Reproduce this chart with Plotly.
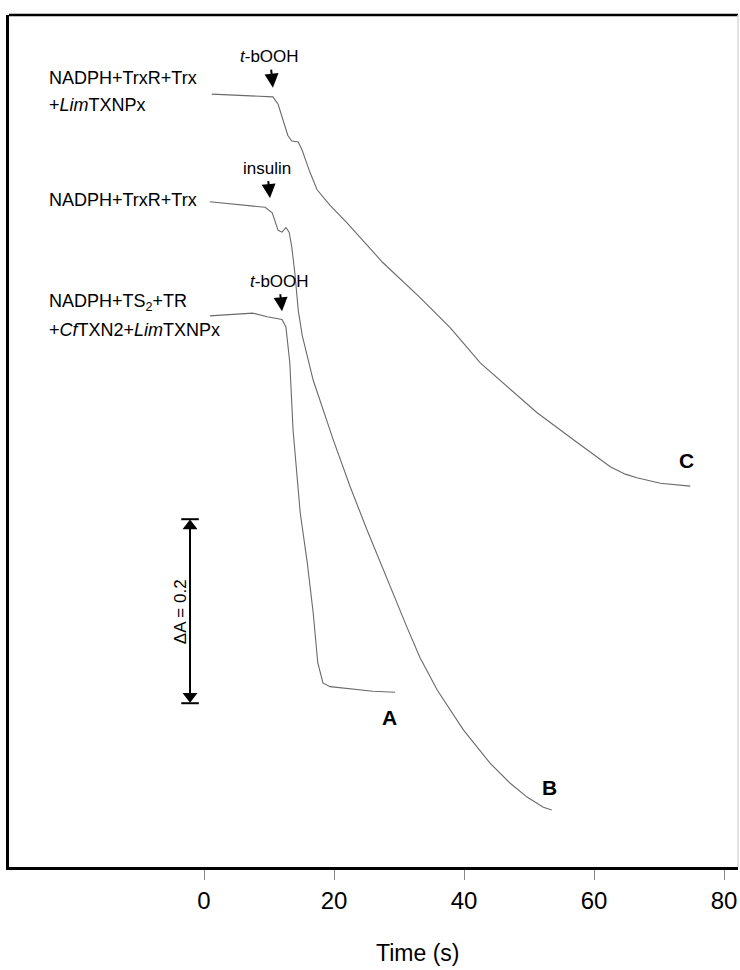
import plotly.graph_objects as go

# Absorbance traces (offset for display), time in seconds
time_a = [0.9, 4.5, 7.5, 9.7, 12.0, 12.6, 13.2, 13.7, 14.8, 15.9, 16.8, 17.5, 18.3, 19.4, 22.5, 26.0, 29.4]
abs_a = [0.599, 0.601, 0.602, 0.598, 0.595, 0.587, 0.548, 0.475, 0.385, 0.330, 0.276, 0.222, 0.200,
         0.196, 0.194, 0.191, 0.190]

time_b = [0.9, 5.1, 9.4, 10.5, 11.4, 12.0, 12.6, 13.1, 13.5, 14.0, 14.5, 15.1, 15.9, 16.8, 19.9,
          22.5, 25.1, 28.2, 31.2, 33.2, 35.9, 39.9, 44.0, 47.1, 49.7, 52.2, 53.5]
abs_b = [0.723, 0.720, 0.717, 0.711, 0.692, 0.690, 0.695, 0.690, 0.674, 0.644, 0.605, 0.578, 0.554,
         0.529, 0.464, 0.413, 0.366, 0.312, 0.261, 0.228, 0.192, 0.149, 0.113, 0.091, 0.076, 0.065, 0.062]

time_c = [1.2, 5.5, 10.6, 11.4, 12.2, 12.9, 13.5, 14.5, 15.1, 16.3, 17.4, 19.4, 22.0, 25.9, 27.5,
          33.2, 37.9, 42.5, 47.1, 51.2, 57.1, 62.5, 64.8, 66.6, 70.2, 74.8]
abs_c = [0.840, 0.839, 0.837, 0.829, 0.812, 0.795, 0.789, 0.788, 0.779, 0.755, 0.736, 0.719, 0.700,
         0.669, 0.657, 0.619, 0.586, 0.548, 0.519, 0.494, 0.463, 0.435, 0.427, 0.423, 0.417, 0.414]

x_ticks = [0, 20, 40, 60, 80]

# Scale bar for absorbance
scale_t = -2.15
scale_bottom = 0.178
scale_delta = 0.2

# Trace names and where they are written
trace_letters = ["A", "B", "C"]
letter_t = [28.5, 53.2, 74.3]
letter_abs = [0.163, 0.086, 0.442]

label_t = -24.2
label_lines = ["NADPH+TrxR+Trx", "+<i>Lim</i>TXNPx", "NADPH+TrxR+Trx",
               "NADPH+TS<sub>2</sub>+TR", "+<i>Cf</i>TXN2+<i>Lim</i>TXNPx"]
label_abs = [0.858, 0.828, 0.725, 0.613, 0.584]

# Additions marked with arrows (arrow tip position; label sits above it)
add_text = ["<i>t</i>-bOOH", "insulin", "<i>t</i>-bOOH"]
add_arrow_t = [10.6, 10.15, 12.0]
add_arrow_tip = [0.847, 0.727, 0.604]
add_text_rise = [31, 30, 30]

FONT = "Arial, Liberation Sans, sans-serif"
line_col = "#6a6a6a"

fig = go.Figure()
for tt, aa in [(time_a, abs_a), (time_b, abs_b), (time_c, abs_c)]:
    fig.add_trace(go.Scatter(x=tt, y=aa, mode="lines", line=dict(color=line_col, width=1.1),
                             showlegend=False, hoverinfo="skip"))

# Scale bar: shaft, end caps and arrowheads
cap_half = 1.35
head = 0.0075
scale_top = scale_bottom + scale_delta
fig.add_trace(go.Scatter(
    x=[scale_t, scale_t, None,
       scale_t - cap_half, scale_t + cap_half, None,
       scale_t - cap_half, scale_t + cap_half],
    y=[scale_bottom + head, scale_top - head, None,
       scale_bottom, scale_bottom, None,
       scale_top, scale_top],
    mode="lines", line=dict(color="black", width=2), showlegend=False, hoverinfo="skip"))
fig.add_trace(go.Scatter(
    x=[scale_t, scale_t], y=[scale_top - head, scale_bottom + head], mode="markers",
    marker=dict(symbol=["triangle-up", "triangle-down"], size=13, color="black"),
    showlegend=False, hoverinfo="skip"))

annotations = []
annotations.append(dict(x=scale_t - 1.55, y=scale_bottom + scale_delta / 2, xref="x", yref="y",
                        text="\u0394A = 0.2", textangle=-90, showarrow=False,
                        font=dict(family=FONT, size=17, color="black")))

for txt, yy in zip(label_lines, label_abs):
    annotations.append(dict(x=label_t, y=yy, xref="x", yref="y", text=txt, showarrow=False,
                            xanchor="left", yanchor="middle",
                            font=dict(family=FONT, size=18, color="black")))

for txt, at, a1, rise in zip(add_text, add_arrow_t, add_arrow_tip, add_text_rise):
    annotations.append(dict(x=at, y=a1, xref="x", yref="y", text=txt, showarrow=True,
                            ax=-3, ay=-rise, arrowhead=2, arrowsize=1.4, arrowwidth=2,
                            arrowcolor="black", standoff=0, startstandoff=2,
                            font=dict(family=FONT, size=17, color="black")))

for txt, tx, ty in zip(trace_letters, letter_t, letter_abs):
    annotations.append(dict(x=tx, y=ty, xref="x", yref="y", text="<b>%s</b>" % txt,
                            showarrow=False, font=dict(family=FONT, size=21, color="black")))

annotations.append(dict(x=32.9, y=-0.101, xref="x", yref="paper", text="Time (s)",
                        showarrow=False, yanchor="middle",
                        font=dict(family=FONT, size=23, color="black")))

# Top and right edges of the frame
shapes = [
    dict(type="line", xref="paper", yref="paper", x0=0, x1=1, y0=1, y1=1,
         line=dict(color="black", width=2.5)),
    dict(type="line", xref="paper", yref="paper", x0=1, x1=1, y0=0, y1=1,
         line=dict(color="#d8d8d8", width=1.5)),
]

fig.update_layout(
    width=740, height=970,
    margin=dict(l=9, r=2, t=15, b=103),
    paper_bgcolor="white", plot_bgcolor="white",
    showlegend=False,
    annotations=annotations,
    shapes=shapes,
    xaxis=dict(range=[-30.0, 82.15], tickvals=x_ticks, ticktext=[str(v) for v in x_ticks],
               ticks="outside", ticklen=10, tickwidth=1, tickcolor="#888888",
               ticklabelstandoff=0,
               showline=True, linecolor="black", linewidth=2.5, showgrid=False, zeroline=False,
               tickfont=dict(family=FONT, size=24, color="black")),
    yaxis=dict(range=[0, 0.926], showticklabels=False, ticks="", showline=True,
               linecolor="black", linewidth=2.5, showgrid=False, zeroline=False),
)

fig.write_html("out.html")
